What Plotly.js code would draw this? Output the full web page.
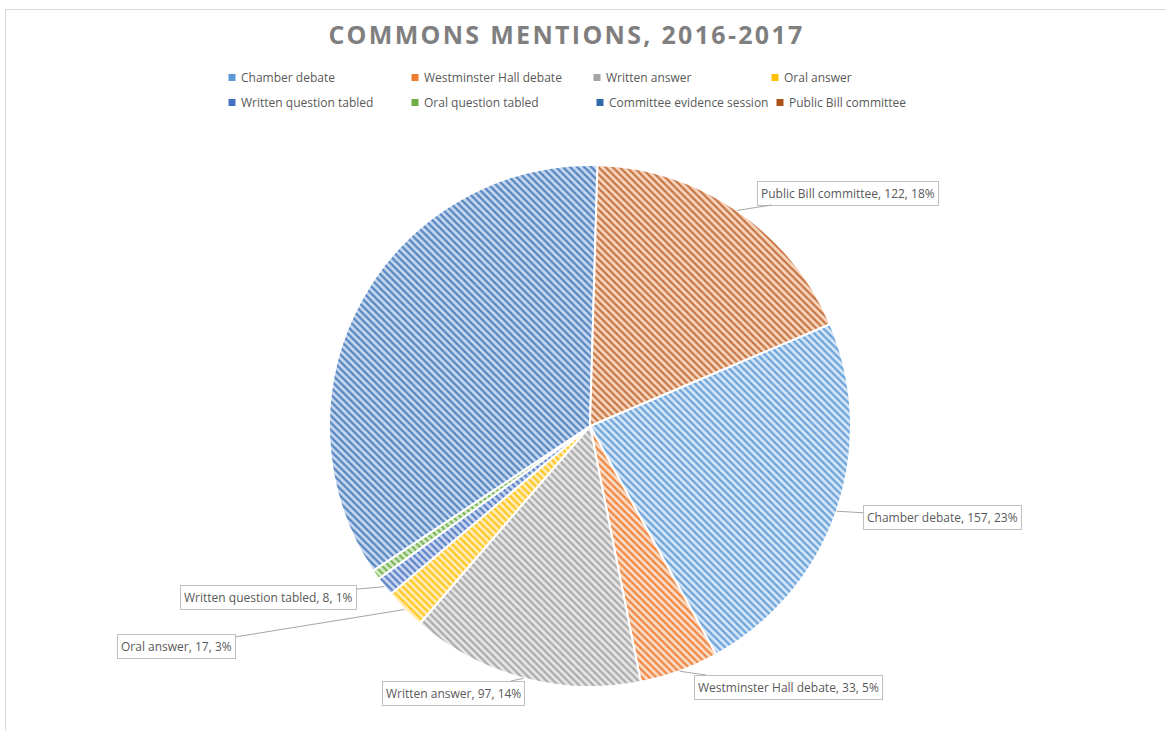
<!DOCTYPE html>
<html>
<head>
<meta charset="utf-8">
<script src="https://cdn.plot.ly/plotly-3.0.1.min.js"></script>
<style>
  html, body { margin: 0; padding: 0; background: #ffffff; }
  #chart { width: 1166px; height: 731px; }
</style>
</head>
<body>
<div id="chart"></div>
<script>
// ---------- data ----------
const categories = [
  "Chamber debate",
  "Westminster Hall debate",
  "Written answer",
  "Oral answer",
  "Written question tabled",
  "Oral question tabled",
  "Committee evidence session",
  "Public Bill committee"
];
const mentions = [157, 33, 97, 17, 8, 4, 234, 122];
const labelledSlices = [true, true, true, true, true, false, false, true];
const chartTitle = "COMMONS MENTIONS, 2016-2017";

// ---------- styles ----------
const legendColors = ["#5B9BD5", "#ED7D31", "#A5A5A5", "#FFC000", "#4472C4", "#70AD47", "#2F6AA8", "#A9521A"];
const hatchColors  = ["#6AA3DA", "#EE8742", "#ABABAB", "#FFC622", "#5A82C9", "#7DB556", "#5585C2", "#C77540"];
const tintColors   = ["#D6E6F6", "#FBDCC8", "#E6E6E6", "#FFEDB8", "#CCD8EF", "#D6EBC9", "#C6D7EE", "#F6D6C0"];
// label box centres (px) for labelled slices
const labelBoxCentres = [[942, 517.5], [788, 687], [453, 693], [176, 646.5], [268, 597], null, null, [848, 193]];
// small per-item horizontal nudges of legend entries (px)
const legendNudge = [0, -1, -3, -9, 0, -1, 0, -4];

const W = 1166, H = 731;
const M = { l: 190, r: 190, t: 150, b: 0 };
const pw = W - M.l - M.r, ph = H - M.t - M.b;
const PIE = { cx: 590, cy: 426, r: 261 };
const rotationDeg = 67;

const toPaperX = px => (px - M.l) / pw;
const toPaperY = py => (H - M.b - py) / ph;

const total = mentions.reduce((a, b) => a + b, 0);

// label annotations anchored at slice mid-angles
const annotations = [];
let acc = 0;
mentions.forEach((v, i) => {
  const mid = rotationDeg + (acc + v / 2) / total * 360;
  acc += v;
  if (!labelledSlices[i]) return;
  const a = mid * Math.PI / 180;
  const tipX = PIE.cx + PIE.r * Math.sin(a);
  const tipY = PIE.cy - PIE.r * Math.cos(a);
  const box = labelBoxCentres[i];
  annotations.push({
    xref: "paper", yref: "paper",
    x: toPaperX(tipX), y: toPaperY(tipY),
    ax: box[0] - tipX, ay: box[1] - tipY,
    text: categories[i] + ", " + v + ", " + Math.round(v / total * 100) + "%",
    showarrow: true, arrowhead: 0, arrowwidth: 1, arrowcolor: "#A6A6A6",
    bgcolor: "#FFFFFF", bordercolor: "#BFBFBF", borderwidth: 1, borderpad: 3,
    font: { family: "Open Sans, sans-serif", size: 12, color: "#595959" }
  });
});

const trace = {
  type: "pie",
  labels: categories,
  values: mentions,
  sort: false,
  direction: "clockwise",
  rotation: rotationDeg,
  textinfo: "none",
  hoverinfo: "label+value+percent",
  domain: {
    x: [toPaperX(PIE.cx - PIE.r), toPaperX(PIE.cx + PIE.r)],
    y: [toPaperY(PIE.cy + PIE.r), toPaperY(PIE.cy - PIE.r)]
  },
  marker: {
    colors: legendColors,
    line: { color: "#FFFFFF", width: 2 },
    pattern: {
      shape: "\\",
      fillmode: "replace",
      fgcolor: hatchColors,
      bgcolor: tintColors,
      size: 5,
      solidity: 0.45
    }
  }
};

const layout = {
  width: W, height: H,
  margin: M,
  paper_bgcolor: "#FFFFFF",
  plot_bgcolor: "#FFFFFF",
  showlegend: true,
  title: {
    text: chartTitle,
    xref: "container", yref: "container",
    x: 566.5 / W, xanchor: "center",
    y: 1 - 35 / H, yanchor: "middle",
    font: { family: "Open Sans, sans-serif", size: 25, color: "#7F7F7F", weight: "bold" }
  },
  legend: {
    orientation: "h",
    x: toPaperX(201), xanchor: "left",
    y: toPaperY(63), yanchor: "top",
    entrywidth: 139,
    traceorder: "normal",
    font: { family: "Open Sans, sans-serif", size: 12, color: "#595959" },
    bgcolor: "rgba(0,0,0,0)"
  },
  annotations: annotations,
  shapes: [{
    type: "rect", xref: "paper", yref: "paper",
    x0: toPaperX(5.5), x1: toPaperX(1180),
    y0: toPaperY(745), y1: toPaperY(9.5),
    line: { color: "#D9D9D9", width: 1 },
    fillcolor: "rgba(0,0,0,0)", layer: "below"
  }]
};

Plotly.newPlot("chart", [trace], layout, { displayModeBar: false, staticPlot: true }).then(gd => {
  // solid, small legend squares; row spacing and column nudges
  const items = gd.querySelectorAll(".legend .traces");
  items.forEach((g, i) => {
    g.querySelectorAll(".legendpoints path").forEach(p => {
      p.setAttribute("d", "M3.5,3.5H-3.5V-3.5H3.5Z");
      p.setAttribute("transform", "translate(31,0)");
      p.style.fill = legendColors[i];
      p.style.fillOpacity = 1;
      p.style.stroke = "none";
    });
    const tr = g.getAttribute("transform") || "";
    const m = tr.match(/translate\(\s*([-\d.]+)[ ,]+([-\d.]+)\s*\)/);
    if (m) {
      const nx = parseFloat(m[1]) + (legendNudge[i] || 0);
      const ny = parseFloat(m[2]) + (i >= 4 ? 6 : 0);
      g.setAttribute("transform", "translate(" + nx + "," + ny + ")");
    }
  });
  const t = gd.querySelector(".gtitle");
  if (t) t.style.letterSpacing = "2.3px";
});
</script>
</body>
</html>
